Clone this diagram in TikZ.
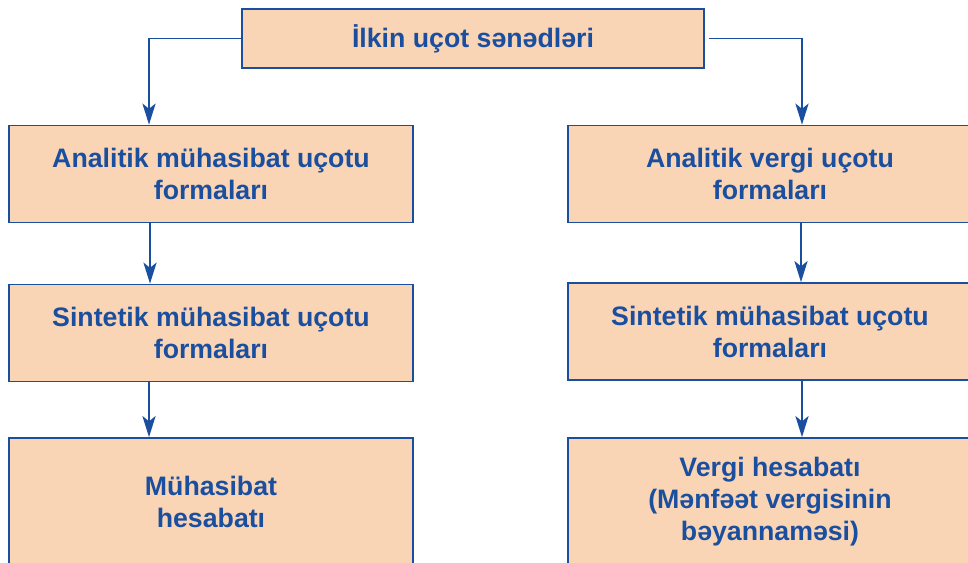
\documentclass[tikz,border=0pt]{standalone}
\usepackage{fontspec}
\setmainfont{Liberation Sans}
\usetikzlibrary{arrows.meta}
\definecolor{boxfill}{HTML}{FAD5B5}
\definecolor{boxline}{HTML}{1A4FA0}

\begin{document}
\begin{tikzpicture}[x=0.02cm,y=-0.02cm,
    box/.style={draw=boxline,fill=boxfill,line width=1pt,
      text=boxline,align=center,
      font=\fontsize{15.2}{18.2}\selectfont\bfseries,
      minimum width=8.08cm,minimum height=1.94cm,inner sep=0pt},
    arr/.style={draw=boxline,line width=1pt,
      -{Stealth[length=12pt,width=7.5pt,inset=3pt]}}]
    \useasboundingbox (0,0) rectangle (968,563);
    \node[box,minimum width=9.24cm,minimum height=1.18cm] (top) at (473,38.5) {İlkin uçot sənədləri};
    \node[box] (la) at (211,174) {Analitik mühasibat uçotu\\formaları};
    \node[box] (lb) at (211,333) {Sintetik mühasibat uçotu\\formaları};
    \node[box,minimum height=2.56cm] (lc) at (211,502) {Mühasibat\\hesabatı};
    \node[box] (ra) at (770,174) {Analitik vergi uçotu\\formaları};
    \node[box] (rb) at (770,331.5) {Sintetik mühasibat uçotu\\formaları};
    \node[box,minimum height=2.56cm] (rc) at (770,502) {Vergi hesabatı\\(Mənfəət vergisinin\\bəyannaməsi)};
    \draw[arr] (top.west) -| ([xshift=-1.24cm]la.north);
    \draw[arr] ([xshift=0.08cm]top.east) -| ([xshift=0.64cm]ra.north);
    \draw[arr] ([xshift=-1.22cm]la.south) -- ([xshift=-1.22cm]lb.north);
    \draw[arr] ([xshift=-1.24cm]lb.south) -- ([xshift=-1.24cm]lc.north);
    \draw[arr] ([xshift=0.62cm]ra.south) -- ([xshift=0.62cm]rb.north);
    \draw[arr] ([xshift=0.64cm]rb.south) -- ([xshift=0.64cm]rc.north);
\end{tikzpicture}
\end{document}
